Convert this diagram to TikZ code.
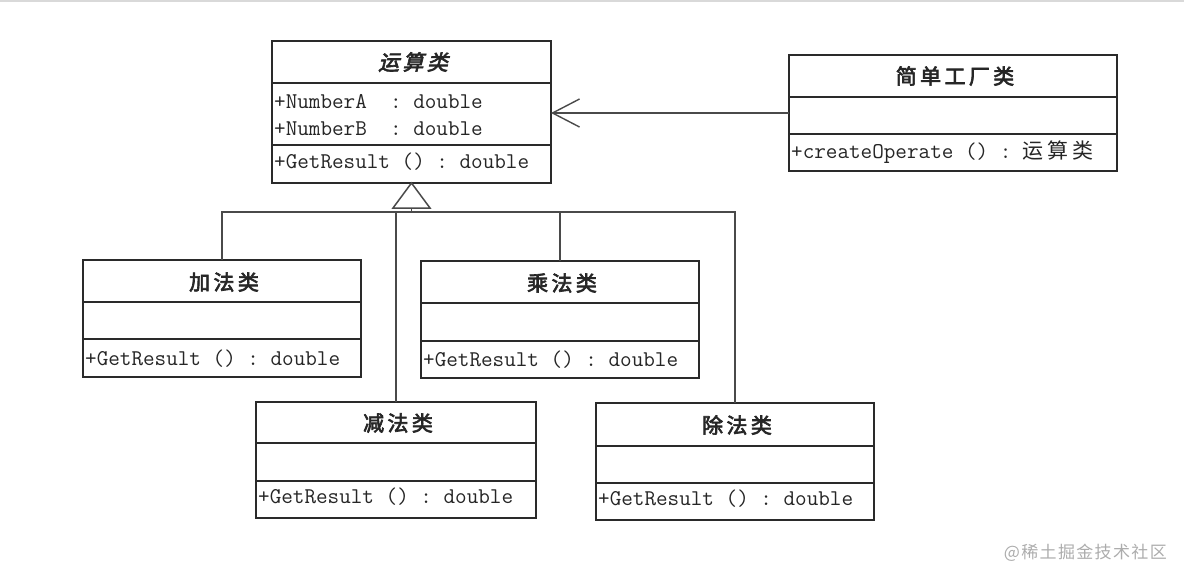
\documentclass[tikz,border=0pt]{standalone}
\usepackage{fontspec}
\usetikzlibrary{arrows.meta}
\newfontfamily\cjk[LetterSpace=18]{Noto Sans CJK SC}
\newfontfamily\cjkb[FakeBold=3,LetterSpace=16]{Noto Sans CJK SC}
\newfontfamily\cjkbi[FakeBold=3,FakeSlant=0.25,LetterSpace=16]{Noto Sans CJK SC}
\newfontfamily\cjkwm[LetterSpace=8]{Noto Sans CJK SC}
\definecolor{boxc}{HTML}{2A2A2A}
\definecolor{txtc}{HTML}{262626}
\definecolor{linec}{HTML}{4A4A4A}
\newcommand\umlclass[7]{%
  \node[cls, minimum width={(#4-#2)*1pt}, minimum height={(#5-#3)*1pt}] (#1) at (#2,#3) {};
  \draw[sep] (#2,#6) -- (#4,#6);
  \draw[sep] (#2,#7) -- (#4,#7);
}
\begin{document}
\begin{tikzpicture}[x=1pt,y=-1pt,
  cls/.style={draw=boxc, line width=1.8pt, fill=white, anchor=north west, inner sep=0pt, outer sep=0pt},
  sep/.style={draw=boxc, line width=1.6pt},
  ttl/.style={inner sep=0pt, font=\fontsize{21}{21}\selectfont\cjkb, text=txtc},
  mem/.style={anchor=base west, inner sep=0pt, font=\fontsize{22.5}{23}\selectfont\ttfamily, text=txtc},
  conn/.style={draw=linec, line width=1.2pt},
]
\useasboundingbox (0,0) rectangle (1184,582);
\draw[gray!30, line width=1.5pt] (0,0.8) -- (1184,0.8);

% classes
\umlclass{op}{272}{41}{551}{183}{83}{145}
\umlclass{fac}{789}{55}{1117}{171}{97}{134}
\umlclass{add}{83}{260}{361}{377}{302}{339}
\umlclass{mul}{421}{261}{699}{378}{303}{341}
\umlclass{sub}{256}{402}{536}{518}{443}{481}
\umlclass{div}{596}{403}{874}{520}{446}{483}

% titles
\node[ttl, font=\fontsize{21}{21}\selectfont\cjkbi] (opT) at (413,62) {运算类};
\node[ttl] (facT) at (955,76) {简单工厂类};
\node[ttl] (addT) at (224,282) {加法类};
\node[ttl] (mulT) at (562,283) {乘法类};
\node[ttl] (subT) at (398,423) {减法类};
\node[ttl] (divT) at (737,425) {除法类};

% members
\node[mem] (opA) at (274,108) {+NumberA\ \ :\ double};
\node[mem] (opB) at (274,135) {+NumberB\ \ :\ double};
\node[mem] (opM) at (274,168) {+GetResult\ ()\ :\ double};
\node[mem] (facM) at (791,158) {+createOperate\ ()\ :\ {\fontsize{21}{21}\selectfont\cjk 运算类}};
\node[mem] (addM) at (85,365) {+GetResult\ ()\ :\ double};
\node[mem] (mulM) at (423,366) {+GetResult\ ()\ :\ double};
\node[mem] (subM) at (258,503) {+GetResult\ ()\ :\ double};
\node[mem] (divM) at (598,505) {+GetResult\ ()\ :\ double};

% association
\draw[conn, -{Straight Barb[length=27pt,width=28pt,line width=1.4pt]}] (fac.west) -- (fac.west -| op.east);

% generalization
\coordinate (bus) at (0,212);
\draw[conn, line width=1.5pt, fill=white] (op.south) -- ++(-18.5,25) -- ++(37,0) -- cycle;
\draw[conn] ([yshift=-25pt]op.south) -- (op.south |- bus);
\draw[conn] (add.north) |- (div.north |- bus) -- (div.north);
\draw[conn] (mul.north) -- (mul.north |- bus);
\draw[conn] (sub.north) -- (sub.north |- bus);

% watermark
\node[inner sep=0pt, anchor=east, text=gray!65, font=\fontsize{17}{17}\selectfont\cjkwm] (wm) at (1167,553) {@稀土掘金技术社区};
\end{tikzpicture}
\end{document}
